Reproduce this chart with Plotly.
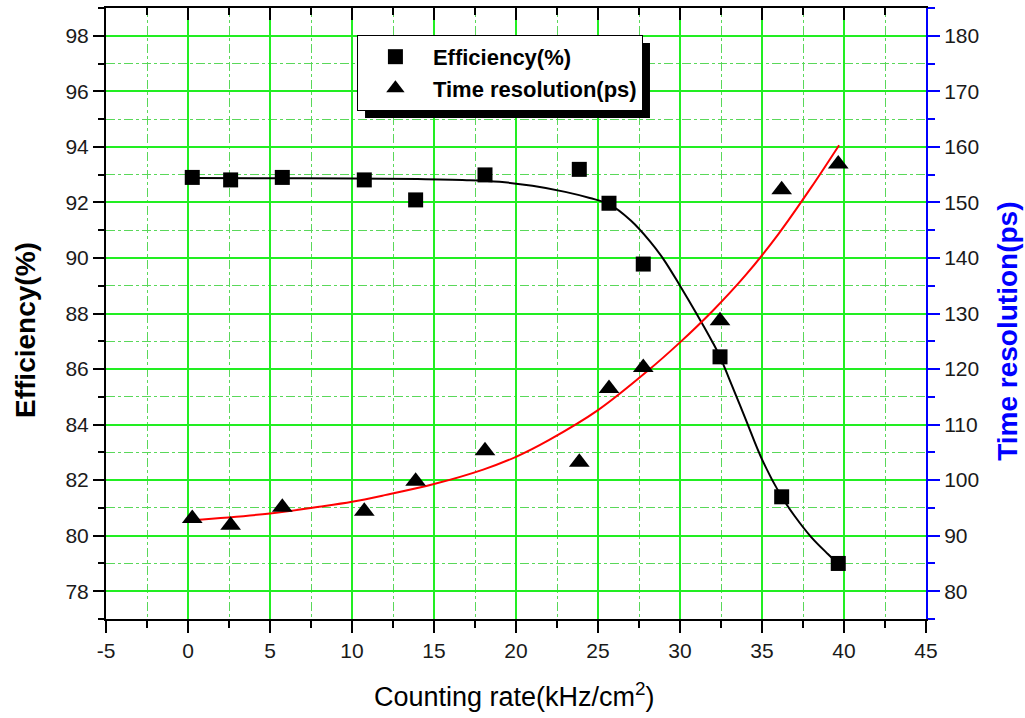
import plotly.graph_objects as go

# ---- data ----
rate = [0.26, 2.6, 5.75, 10.75, 13.88, 18.11, 23.86, 25.67, 27.76, 32.44, 36.2, 39.65]
efficiency = [92.9, 92.81, 92.9, 92.81, 92.09, 92.99, 93.19, 91.97, 89.78, 86.44, 81.4, 79.0]
time_res = [93.1, 91.9, 95.1, 94.4, 99.8, 105.3, 103.2, 116.5, 120.3, 128.7, 152.3, 156.9]

eff_fit_x = [0.26, 5, 10, 14, 17, 19, 21, 23, 24.5, 25.67, 27, 28.17, 29, 30, 31, 32, 32.44, 33, 34, 35, 36.2, 37, 38, 39, 39.63]
eff_fit_y = [92.88, 92.87, 92.86, 92.84, 92.8, 92.74, 92.6, 92.38, 92.16, 91.94, 91.35, 90.6, 89.95, 89.0, 88.0, 86.95,
             86.44, 85.65, 84.2, 82.75, 81.4, 80.7, 79.95, 79.35, 79.0]

tr_fit_x = [0.28, 5, 8, 10, 12, 15, 18, 20, 22, 25, 28, 30, 32, 34, 36, 38, 39.7]
tr_fit_y = [92.8, 94.0, 95.2, 96.1, 97.3, 99.3, 101.9, 104.2, 107.2, 112.6, 119.6, 124.8, 130.5, 136.9, 144.3, 152.7, 160.3]

x_ticks = [-5, 0, 5, 10, 15, 20, 25, 30, 35, 40, 45]
x_tick_labels = ["-5", "0", "5", "10", "15", "20", "25", "30", "35", "40", "45"]

x_title = "Counting rate(kHz/cm<sup>2</sup>)"
y_title = "Efficiency(%)"
y2_title = "Time resolution(ps)"
legend_names = ["Efficiency(%)", "Time resolution(ps)"]

FONT = "Arial, Liberation Sans, sans-serif"
GRID = "#22ee22"
MINOR_GRID = "#5ad85a"

fig = go.Figure()

fig.add_trace(go.Scatter(x=eff_fit_x, y=eff_fit_y, mode="lines", line=dict(color="black", width=2, shape="spline"),
                         showlegend=False, hoverinfo="skip"))
fig.add_trace(go.Scatter(x=tr_fit_x, y=tr_fit_y, mode="lines", yaxis="y2", line=dict(color="red", width=2, shape="spline"),
                         showlegend=False, hoverinfo="skip"))
fig.add_trace(go.Scatter(x=rate, y=efficiency, mode="markers", name=legend_names[0],
                         marker=dict(symbol="square", size=15, color="black")))
fig.add_trace(go.Scatter(x=rate, y=time_res, mode="markers", name=legend_names[1], yaxis="y2",
                         marker=dict(symbol="triangle-up", size=18, color="black")))
# invisible trace to anchor the top mirror axis
fig.add_trace(go.Scatter(x=rate, y=efficiency, mode="markers", xaxis="x2", marker=dict(opacity=0),
                         showlegend=False, hoverinfo="skip"))

tickfont = dict(family=FONT, size=21, color="#1a1a1a")

fig.update_layout(
    width=1025, height=718,
    margin=dict(l=106, r=99, t=8, b=99),
    paper_bgcolor="white", plot_bgcolor="white",
    xaxis=dict(range=[-5, 45], tickmode="array", tickvals=x_ticks, ticktext=x_tick_labels,
               ticks="outside", ticklen=12, tickwidth=2, tickcolor="black",
               showline=True, linecolor="black", linewidth=2, zeroline=False,
               showgrid=True, gridcolor=GRID, gridwidth=1.5, tickfont=tickfont,
               minor=dict(tick0=-5, dtick=2.5, ticks="outside", ticklen=7, tickwidth=2, tickcolor="black",
                          showgrid=True, gridcolor=MINOR_GRID, griddash="dashdot", gridwidth=1)),
    xaxis2=dict(overlaying="x", side="top", matches="x", range=[-5, 45], tick0=0, dtick=5, ticks="inside",
                ticklen=12, tickwidth=2, tickcolor="black", showticklabels=False, showline=True,
                linecolor="black", linewidth=2, showgrid=False, zeroline=False,
                minor=dict(dtick=2.5, ticks="inside", ticklen=7, tickwidth=2, tickcolor="black", showgrid=False)),
    yaxis=dict(range=[77, 99], tick0=78, dtick=2, ticks="outside", ticklen=11, tickwidth=2, tickcolor="black",
               showline=True, linecolor="black", linewidth=2, zeroline=False,
               showgrid=True, gridcolor=GRID, gridwidth=1.5, tickfont=tickfont,
               minor=dict(dtick=1, ticks="outside", ticklen=6, tickwidth=2, tickcolor="black",
                          showgrid=True, gridcolor=MINOR_GRID, griddash="dashdot", gridwidth=1)),
    yaxis2=dict(overlaying="y", side="right", range=[75, 185], tick0=80, dtick=10, ticks="outside", ticklen=12,
                tickwidth=2, tickcolor="blue", showline=True, linecolor="blue", linewidth=2, zeroline=False,
                showgrid=False, tickfont=tickfont,
                minor=dict(dtick=5, ticks="outside", ticklen=7, tickwidth=2, tickcolor="blue", showgrid=False)),
    legend=dict(x=0.306, y=0.956, xanchor="left", yanchor="top", bgcolor="white", bordercolor="black",
                borderwidth=1, itemwidth=65, font=dict(family=FONT, size=22, color="black", weight="bold")),
    shapes=[dict(type="rect", xref="paper", yref="paper", x0=0.3159, x1=0.6634, y0=0.82, y1=0.9427,
                 fillcolor="black", line=dict(width=0), layer="above")],
    annotations=[
        dict(text=x_title, xref="paper", yref="paper", x=0.4976, y=-0.125, showarrow=False,
             xanchor="center", yanchor="middle", font=dict(family=FONT, size=27, color="black")),
        dict(text=y_title, xref="paper", yref="paper", x=-0.0976, y=0.473, showarrow=False, textangle=-90,
             xanchor="center", yanchor="middle", font=dict(family=FONT, size=28, color="black", weight="bold")),
        dict(text=y2_title, xref="paper", yref="paper", x=1.1, y=0.47, showarrow=False, textangle=-90,
             xanchor="center", yanchor="middle", font=dict(family=FONT, size=28, color="blue", weight="bold")),
    ],
)

fig.write_html("out.html")
